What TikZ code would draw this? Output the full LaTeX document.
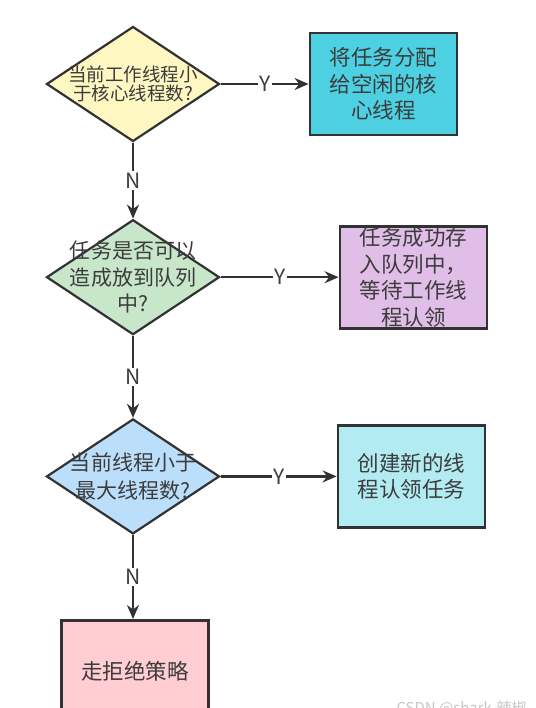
\documentclass[tikz,border=0pt]{standalone}
\usepackage{fontspec}
\setmainfont{Noto Sans CJK SC}
\usepackage{xcolor}
\usepackage{tikz}
\usetikzlibrary{positioning, arrows.meta, shapes.geometric}
\definecolor{LineGray}{RGB}{50,50,50}
\definecolor{TextGray}{RGB}{60,60,60}
\definecolor{DecYellow}{HTML}{FFF7C2}
\definecolor{DecGreen}{HTML}{C8E6C9}
\definecolor{DecBlue}{HTML}{BBDEFB}
\definecolor{BoxCyan}{HTML}{4DD0E1}
\definecolor{BoxPurple}{HTML}{E1BEE7}
\definecolor{BoxAqua}{HTML}{B2EBF2}
\definecolor{BoxPink}{HTML}{FFCDD2}
\tikzset{
  dec/.style={diamond, draw=LineGray, line width=2.2bp, minimum width=173bp, minimum height=115bp,
    inner sep=0pt},
  dectxt/.style={align=center, text=TextGray, inner sep=0pt, font=\fontsize{21bp}{26.5bp}\selectfont},
  act/.style={rectangle, draw=LineGray, line width=2.6bp, minimum width=147bp, minimum height=102bp,
    inner sep=0pt, align=center, text=TextGray, font=\fontsize{21.5bp}{26.5bp}\selectfont},
  flow/.style={-{Stealth[length=14bp, width=12bp]}, line width=2.2bp, LineGray},
  yn/.style={fill=white, inner sep=1.5bp, text=TextGray, font=\fontsize{21bp}{21bp}\selectfont},
}

\begin{document}
\begin{tikzpicture}[x=1bp, y=-1bp]
    \clip (0,0) rectangle (536,708);
    \node[dec, fill=DecYellow, label={[dectxt, font=\fontsize{18.5bp}{19.5bp}\selectfont]center:{当前工作线程小\\于核心线程数?}}] (d1) at (133,84) {};
    \node[act, fill=BoxCyan, right=88bp of d1] (b1) {将任务分配\\给空闲的核\\心线程};
    \node[dec, fill=DecGreen, below=76bp of d1, label={[dectxt]center:{任务是否可以\\造成放到队列\\中?}}] (d2) {};
    \node[act, fill=BoxPurple, right=118bp of d2] (b2) {任务成功存\\入队列中，\\等待工作线\\程认领};
    \node[dec, fill=DecBlue, below=82bp of d2, label={[dectxt, font=\fontsize{21bp}{28bp}\selectfont]center:{当前线程小于\\最大线程数?}}] (d3) {};
    \node[act, fill=BoxAqua, right=116bp of d3] (b3) {创建新的线\\程认领任务};
    \node[act, fill=BoxPink, below=84bp of d3, xshift=2bp] (b4) {走拒绝策略};
    % yes / no branches
    \draw[flow] (d1) -- node[yn] {Y} (b1);
    \draw[flow] (d1) -- node[yn] {N} (d2);
    \draw[flow] (d2) -- node[yn] {Y} (b2);
    \draw[flow] (d2) -- node[yn] {N} (d3);
    \draw[flow] (d3) -- node[yn] {Y} (b3);
    \draw[flow] (d3.south) -- node[yn] {N} (d3.south |- b4.north);
    \node[anchor=north west, text=gray!45, font=\fontsize{15bp}{15bp}\selectfont] (mark) at (393,697) {CSDN @shark-辣椒};
\end{tikzpicture}
\end{document}
